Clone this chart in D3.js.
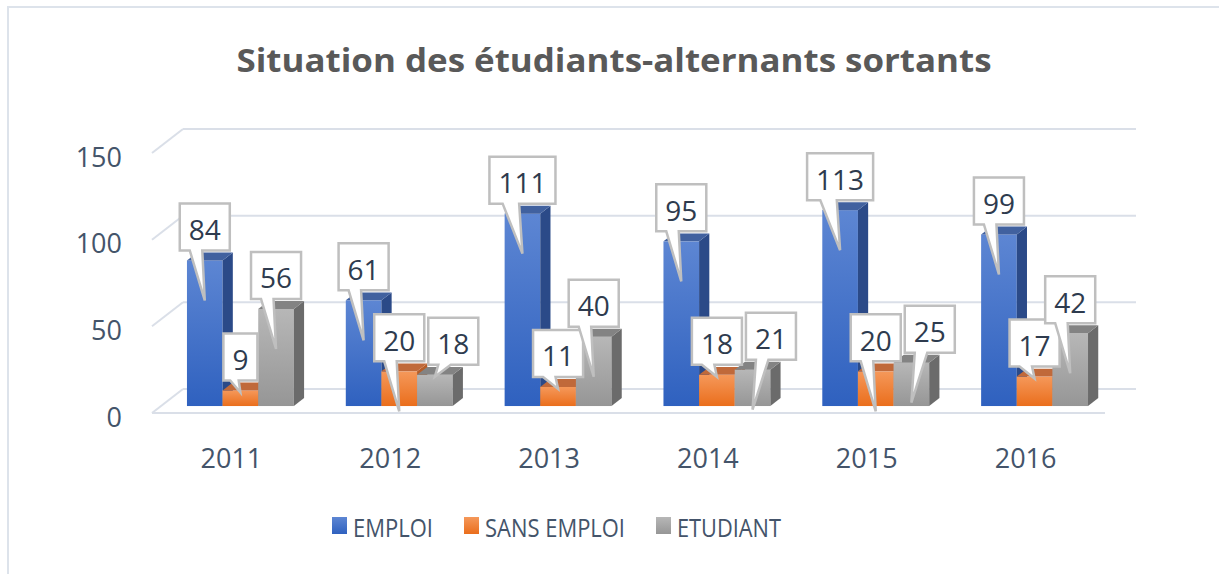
<!DOCTYPE html>
<html>
<head>
<meta charset="utf-8">
<script src="https://cdnjs.cloudflare.com/ajax/libs/d3/7.8.5/d3.min.js"></script>
<style>
  html, body { margin: 0; padding: 0; background: #fff; }
  svg { display: block; }
</style>
</head>
<body>
<svg id="chart" width="1219" height="574"></svg>
<script>
// data
const years = ['2011', '2012', '2013', '2014', '2015', '2016'];
const seriesNames = ['EMPLOI', 'SANS EMPLOI', 'ETUDIANT'];
const emploi = [84, 61, 111, 95, 113, 99];
const sansEmploi = [9, 20, 11, 18, 20, 17];
const etudiant = [56, 18, 40, 21, 25, 42];
const yTicks = [0, 50, 100, 150];
const title = 'Situation des étudiants-alternants sortants';

const values = [emploi, sansEmploi, etudiant];

// colours per series: front gradient top/bottom, side, top face
const palette = [
  { name: 'blue', f1: '#5d86d3', f2: '#2f61bf', side: '#2b4a88', top: '#41619f' },
  { name: 'orange', f1: '#f5985a', f2: '#ea6e1c', side: '#b65d28', top: '#c0693a' },
  { name: 'gray', f1: '#b7b7b7', f2: '#969696', side: '#6b6b6b', top: '#838383' }
];

const svg = d3.select('#chart');

// 3d projection bits
const DX = 31, DY = -24;      // shift for full depth
const dFront = 0.29, dBack = 0.62;

const y = d3.scaleLinear().domain([0, 150]).range([413, 153]);
const x0 = d3.scaleBand().domain(years).range([152, 1105])
  .paddingInner(0.327).paddingOuter(0.1635);
const x1 = d3.scaleBand().domain(seriesNames).range([0, x0.bandwidth()]);

function proj(x, v, d) { return [x + DX * d, y(v) + DY * d]; }

const defs = svg.append('defs');
palette.forEach(p => {
  const g = defs.append('linearGradient').attr('id', 'g-' + p.name)
    .attr('x1', 0).attr('y1', 0).attr('x2', 0).attr('y2', 1);
  g.append('stop').attr('offset', '0%').attr('stop-color', p.f1);
  g.append('stop').attr('offset', '100%').attr('stop-color', p.f2);
});

// outer frame
svg.append('path').attr('d', 'M8,574 V7 H1219')
  .attr('fill', 'none').attr('stroke', '#dde3eb').attr('stroke-width', 2);

// title
svg.append('text')
  .attr('x', 614).attr('y', 72)
  .attr('text-anchor', 'middle')
  .attr('font-family', 'Open Sans')
  .attr('font-weight', 'bold')
  .attr('font-size', 32)
  .attr('fill', '#595959')
  .attr('textLength', 755).attr('lengthAdjust', 'spacingAndGlyphs')
  .text(title);

// grid
const grid = svg.append('g').attr('stroke', '#dadfe8').attr('stroke-width', 2).attr('fill', 'none');
const xStart = x0.range()[0], xEnd = x0.range()[1];
yTicks.forEach(t => {
  const a = proj(xStart, t, 1), b = proj(xEnd, t, 1), c = proj(xStart, t, 0);
  grid.append('line').attr('x1', a[0]).attr('y1', a[1]).attr('x2', b[0]).attr('y2', b[1]);
  grid.append('line').attr('x1', c[0]).attr('y1', c[1]).attr('x2', a[0]).attr('y2', a[1]);
});
const f0 = proj(xStart, 0, 0), f1 = proj(xEnd, 0, 0);
grid.append('line').attr('x1', f0[0]).attr('y1', f0[1]).attr('x2', f1[0]).attr('y2', f1[1]);

// y tick labels
svg.append('g').selectAll('text').data(yTicks).enter().append('text')
  .attr('x', 122).attr('y', d => y(d) + 3)
  .attr('text-anchor', 'end').attr('dominant-baseline', 'central')
  .attr('font-family', 'Open Sans').attr('font-size', 27).attr('fill', '#44546a')
  .text(d => d);

// x labels
svg.append('g').selectAll('text').data(years).enter().append('text')
  .attr('x', d => x0(d) + x0.bandwidth() / 2).attr('y', 457)
  .attr('text-anchor', 'middle').attr('dominant-baseline', 'central')
  .attr('font-family', 'Open Sans').attr('font-size', 27).attr('fill', '#44546a')
  .text(d => d);

// bars
const bars = svg.append('g');
const poly = pts => 'M' + pts.map(p => p.join(',')).join('L') + 'Z';
years.forEach((yr, ci) => {
  seriesNames.forEach((s, si) => {
    const v = values[si][ci];
    const p = palette[si];
    const xl = x0(yr) + x1(s), xr = xl + x1.bandwidth();
    const fTL = proj(xl, v, dFront), fBR = proj(xr, 0, dFront);
    bars.append('rect')
      .attr('x', fTL[0]).attr('y', fTL[1])
      .attr('width', fBR[0] - fTL[0]).attr('height', fBR[1] - fTL[1])
      .attr('fill', 'url(#g-' + p.name + ')');
    bars.append('path').attr('fill', p.side).attr('d', poly([
      proj(xr, 0, dFront), proj(xr, v, dFront), proj(xr, v, dBack), proj(xr, 0, dBack)]));
    bars.append('path').attr('fill', p.top).attr('d', poly([
      proj(xl, v, dFront), proj(xr, v, dFront), proj(xr, v, dBack), proj(xl, v, dBack)]));
  });
});

// data label callouts
const labels = svg.append('g');
years.forEach((yr, ci) => {
  let prev = null;
  seriesNames.forEach((s, si) => {
    const v = values[si][ci];
    const cx = x0(yr) + x1(s) + x1.bandwidth() / 2 + DX * dFront;
    const top = y(v) + DY * dFront;
    const g = labels.append('g');
    const path = g.append('path');
    const txt = g.append('text')
      .attr('font-family', 'Open Sans').attr('font-size', 28).attr('fill', '#2e3b4e')
      .attr('text-anchor', 'middle').attr('dominant-baseline', 'central')
      .text(v);
    const tw = txt.node().getComputedTextLength();
    const w = tw + 18, h = 47;
    let left = cx - w / 2;
    const bottom = top - 10, bTop = bottom - h;
    if (prev) {
      const vo = Math.min(bottom, prev.bottom) - Math.max(bTop, prev.top);
      if (left < prev.right && vo > 10) left = prev.right + 4;
    }
    const right = left + w;
    const tipY = v >= 20 ? top + 40 : top + 2;
    const bl = left + 0.2 * w, br = left + 0.45 * w;
    path.attr('d', `M${left},${bTop}H${right}V${bottom}H${br}L${cx},${tipY}L${bl},${bottom}H${left}Z`)
      .attr('fill', '#fff').attr('stroke', '#bfbfbf').attr('stroke-width', 2.5);
    txt.attr('x', left + w / 2).attr('y', bTop + h / 2 + 2);
    prev = { left, right, top: bTop, bottom };
  });
});

// legend
const legendWidths = [80, 140, 104];
const legend = svg.append('g');
let lx = 332;
seriesNames.forEach((s, si) => {
  legend.append('rect').attr('x', lx).attr('y', 517).attr('width', 15).attr('height', 17)
    .attr('fill', 'url(#g-' + palette[si].name + ')');
  legend.append('text').attr('x', lx + 21).attr('y', 537)
    .attr('font-family', 'Open Sans').attr('font-size', 25).attr('fill', '#44546a')
    .attr('textLength', legendWidths[si]).attr('lengthAdjust', 'spacingAndGlyphs')
    .text(s);
  lx += 21 + legendWidths[si] + 31;
});
</script>
</body>
</html>
